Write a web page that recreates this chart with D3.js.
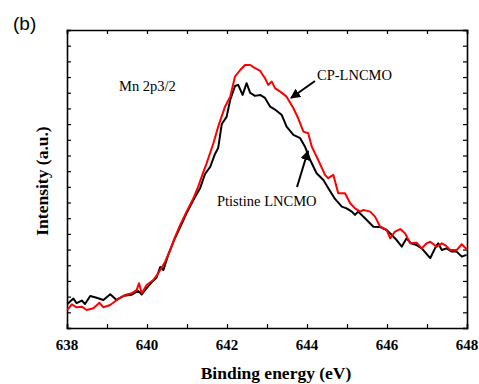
<!DOCTYPE html>
<html>
<head>
<meta charset="utf-8">
<script src="https://cdn.jsdelivr.net/npm/d3@7"></script>
<style>
  body { margin: 0; background: #fff; }
</style>
</head>
<body>
<div id="chart"></div>
<script>
const W = 479, H = 384;
const margin = {top: 30, right: 12, bottom: 56, left: 67};
const SERIF = "'Liberation Serif', 'Times New Roman', Times, serif";

// Mn 2p3/2 spectra, binding energy (eV) and intensity (a.u.)
const pristineEnergy = [638.01,638.16,638.24,638.37,638.45,638.58,638.74,638.91,639.08,639.24,639.43,639.62,639.78,639.87,639.95,640.12,640.24,640.33,640.41,640.53,640.70,640.83,640.99,641.16,641.33,641.45,641.58,641.70,641.78,641.87,641.99,642.08,642.20,642.28,642.39,642.49,642.58,642.70,642.83,642.95,643.08,643.20,643.37,643.49,643.66,643.83,643.95,644.08,644.24,644.41,644.53,644.70,644.87,644.99,645.12,645.20,645.28,645.45,645.66,645.83,645.99,646.12,646.24,646.37,646.49,646.60,646.74,646.87,647.08,647.20,647.28,647.37,647.49,647.62,647.74,647.87,647.99];
const pristineIntensity = [1.53,1.88,1.58,1.75,1.53,2.04,1.93,1.79,2.15,1.79,2.06,2.12,2.36,2.14,2.42,2.93,3.22,3.89,3.70,4.66,5.74,6.44,7.33,8.16,8.93,9.82,10.27,11.10,11.48,13.01,13.46,14.54,15.43,15.50,14.86,15.61,14.99,14.80,14.86,14.67,14.11,13.93,13.58,12.84,12.31,12.10,11.56,10.71,9.87,9.44,8.93,8.23,7.74,7.63,7.42,7.21,7.42,7.00,6.46,6.44,6.25,5.93,5.61,5.19,5.72,5.40,5.29,5.08,4.45,5.08,5.40,4.97,5.08,4.87,4.87,4.55,4.66];

const cpEnergy = [638.01,638.12,638.24,638.37,638.49,638.66,638.81,638.91,639.08,639.28,639.45,639.62,639.74,639.80,639.87,639.99,640.16,640.28,640.45,640.58,640.70,640.83,640.99,641.16,641.28,641.41,641.49,641.66,641.78,641.95,642.08,642.20,642.33,642.45,642.58,642.66,642.83,642.95,643.03,643.12,643.20,643.33,643.49,643.66,643.78,643.91,644.03,644.12,644.28,644.45,644.53,644.66,644.78,644.95,645.08,645.20,645.33,645.41,645.58,645.70,645.83,645.99,646.08,646.20,646.33,646.45,646.58,646.74,646.87,646.99,647.08,647.24,647.37,647.45,647.58,647.74,647.87,647.99];
const cpIntensity = [1.15,1.51,1.32,1.36,1.15,1.26,1.61,1.32,1.47,1.85,2.10,2.21,2.42,2.85,2.21,2.74,3.06,3.49,4.21,4.97,5.80,6.57,7.42,8.27,9.01,9.95,10.50,11.78,12.84,14.11,14.75,16.03,16.45,16.77,16.77,16.63,16.39,15.92,15.50,15.71,15.29,15.07,14.75,14.01,13.37,12.52,12.42,11.56,10.71,9.76,9.55,9.76,8.59,8.59,7.95,7.63,7.42,7.53,7.42,7.10,6.46,6.25,5.72,6.14,6.31,6.04,5.40,5.44,5.08,5.40,5.50,5.19,5.40,5.29,4.97,4.97,5.34,5.02];

const xTicks = [638, 640, 642, 644, 646, 648];

const pristine = pristineEnergy.map((e, i) => ({e: e, v: pristineIntensity[i]}));
const cp = cpEnergy.map((e, i) => ({e: e, v: cpIntensity[i]}));

const iw = W - margin.left - margin.right, ih = H - margin.top - margin.bottom;

const svg = d3.select("#chart").append("svg")
    .attr("width", W)
    .attr("height", H);

svg.append("defs").append("marker")
    .attr("id", "arrow")
    .attr("viewBox", "0 0 10 10")
    .attr("refX", 9).attr("refY", 5)
    .attr("markerWidth", 5).attr("markerHeight", 5)
    .attr("markerUnits", "strokeWidth")
    .attr("orient", "auto")
    .append("path")
    .attr("d", "M0,0 L10,5 L0,10 z")
    .attr("fill", "black");

const g = svg.append("g")
    .attr("transform", `translate(${margin.left},${margin.top})`);

let x = d3.scaleLinear().domain([638, 648]).range([0, iw]);
let y = d3.scaleLinear().domain([0, 19]).range([ih, 0]);

// axes, ticks pointing inward
g.append("g")
    .attr("class", "axis")
    .attr("transform", `translate(0,${ih})`)
    .call(d3.axisBottom(x).tickValues(d3.range(638, 649, 1)).tickSize(-4).tickFormat(""));
g.append("g")
    .attr("class", "axis")
    .call(d3.axisTop(x).tickValues(d3.range(638, 649, 1)).tickSize(-4).tickFormat(""));
g.append("g")
    .attr("class", "axis")
    .call(d3.axisLeft(y).tickValues(d3.range(0, 20, 1)).tickSize(-4).tickFormat(""));
g.append("g")
    .attr("class", "axis")
    .attr("transform", `translate(${iw},0)`)
    .call(d3.axisRight(y).tickValues(d3.range(0, 20, 1)).tickSize(-4).tickFormat(""));

g.selectAll(".axis path").attr("stroke", "black").attr("stroke-width", 1.6);
g.selectAll(".axis line").attr("stroke", "black").attr("stroke-width", 1.2);

g.selectAll(".xlab")
    .data(xTicks)
    .enter().append("text")
    .attr("x", d => x(d))
    .attr("y", ih + 22)
    .style("font-family", SERIF)
    .style("text-anchor", "middle")
    .style("font-weight", "bold")
    .style("font-size", "15px")
    .text(d => d);

let line = d3.line()
    .x(d => x(d.e))
    .y(d => y(d.v));

g.append("path")
    .datum(pristine)
    .attr("fill", "none")
    .attr("stroke", "black")
    .attr("stroke-width", 2)
    .attr("stroke-linejoin", "round")
    .attr("d", line);

g.append("path")
    .datum(cp)
    .attr("fill", "none")
    .attr("stroke", "#ff0000")
    .attr("stroke-width", 2)
    .attr("stroke-linejoin", "round")
    .attr("d", line);

// labels and arrows
svg.append("text")
    .attr("x", 119).attr("y", 91)
    .style("font-family", SERIF)
    .style("font-size", "14.5px")
    .text("Mn 2p3/2");

svg.append("text")
    .attr("x", 317).attr("y", 80)
    .style("font-family", SERIF)
    .style("font-size", "14.5px")
    .text("CP-LNCMO");

svg.append("line")
    .attr("x1", 315).attr("y1", 81)
    .attr("x2", 291).attr("y2", 98)
    .attr("stroke", "black").attr("stroke-width", 2)
    .attr("marker-end", "url(#arrow)");

svg.append("text")
    .attr("x", 217).attr("y", 206)
    .style("font-family", SERIF)
    .style("font-size", "14.5px")
    .text("Ptistine LNCMO");

svg.append("line")
    .attr("x1", 297).attr("y1", 187)
    .attr("x2", 308).attr("y2", 151)
    .attr("stroke", "black").attr("stroke-width", 2)
    .attr("marker-end", "url(#arrow)");

svg.append("text")
    .attr("x", 276).attr("y", 379)
    .style("font-family", SERIF)
    .style("text-anchor", "middle")
    .style("font-weight", "bold")
    .style("font-size", "17.5px")
    .text("Binding energy (eV)");

svg.append("text")
    .attr("transform", "translate(48, 181) rotate(-90)")
    .style("font-family", SERIF)
    .style("text-anchor", "middle")
    .style("font-weight", "bold")
    .style("font-size", "17.5px")
    .text("Intensity (a.u.)");

svg.append("text")
    .attr("x", 13).attr("y", 30)
    .style("font-family", "'Liberation Sans', Arial, sans-serif")
    .style("font-size", "19px")
    .text("(b)");
</script>
</body>
</html>
